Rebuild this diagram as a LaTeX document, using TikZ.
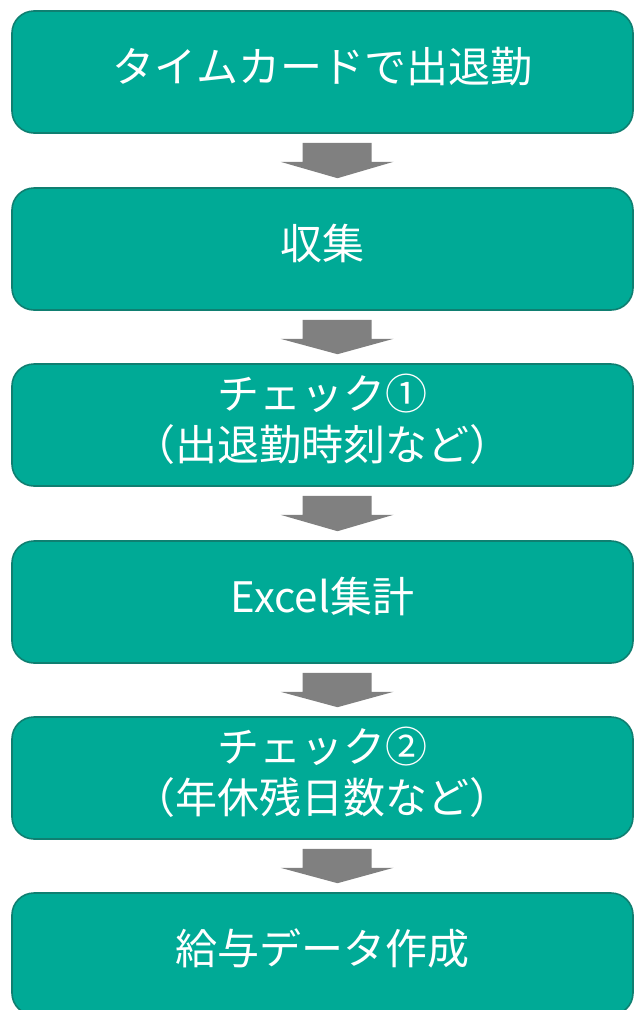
\documentclass[tikz,border=0pt]{standalone}
\usepackage{fontspec}
\setmainfont{Noto Sans CJK JP}
\usetikzlibrary{calc}
\definecolor{boxfill}{HTML}{00AA96}
\definecolor{boxline}{HTML}{0F7F71}
\definecolor{arrowgray}{HTML}{808080}
\tikzset{
  stepbox/.style={draw=boxline, line width=1.6pt, fill=boxfill, rounded corners=22pt,
    minimum width=621pt, minimum height=122pt, inner sep=0pt, text=white,
    font=\fontsize{42}{50}\selectfont},
  blockarrow/.style={fill=arrowgray, draw=none}
}
\newcommand{\lbl}[1]{\raisebox{3pt}{\begin{tabular}{@{}c@{}}#1\end{tabular}}}
\newcommand{\downarrowblock}[2]{%
  \fill[blockarrow] ($(#1.south)+(-20,9)$) -- ($(#1.south)+(49,9)$) -- ($(#1.south)+(49,28)$)
    -- ($(#1.south)+(71,28)$) -- ($(#2.north)+(15,-9)$) -- ($(#1.south)+(-42,28)$)
    -- ($(#1.south)+(-20,28)$) -- cycle;}
\begin{document}
\begin{tikzpicture}[x=1pt,y=-1pt]
\useasboundingbox (0,0) rectangle (634,1010);
\begin{scope}
\clip (0,0) rectangle (634,1010);
\node[stepbox] (b1) at (322.5,72) {\lbl{タイムカードで出退勤}};
\node[stepbox] (b2) at (322.5,249) {\lbl{収集}};
\node[stepbox] (b3) at (322.5,425) {\lbl{チェック①\\（出退勤時刻など）}};
\node[stepbox] (b4) at (322.5,602) {\lbl{Excel集計}};
\node[stepbox] (b5) at (322.5,778) {\lbl{チェック②\\（年休残日数など）}};
\node[stepbox] (b6) at (322.5,954) {\lbl{給与データ作成}};
\downarrowblock{b1}{b2}
\downarrowblock{b2}{b3}
\downarrowblock{b3}{b4}
\downarrowblock{b4}{b5}
\downarrowblock{b5}{b6}
\end{scope}
\end{tikzpicture}
\end{document}
